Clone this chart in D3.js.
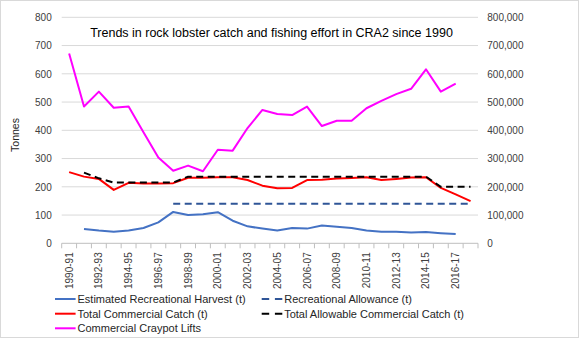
<!DOCTYPE html>
<html>
<head>
<meta charset="utf-8">
<script src="https://cdn.jsdelivr.net/npm/d3@7"></script>
<style>
html,body{margin:0;padding:0;background:#fff;}
svg{display:block;font-family:"Liberation Sans",Arial,sans-serif;}
</style>
</head>
<body>
<svg id="chart" width="580" height="339"></svg>
<script>
const seasons = ["1990-91","1991-92","1992-93","1993-94","1994-95","1995-96","1996-97","1997-98","1998-99","1999-00",
  "2000-01","2001-02","2002-03","2003-04","2004-05","2005-06","2006-07","2007-08","2008-09","2009-10",
  "2010-11","2011-12","2012-13","2013-14","2014-15","2015-16","2016-17","2017-18"];

const recHarvest = [null,51,45,41,45,54,74,111,100,103,110,80,60,52,45,54,52,63,59,54,45,41,41,38,40,36,33,null];
const recAllowance = [null,null,null,null,null,null,null,140,140,140,140,140,140,140,140,140,140,140,140,140,140,140,140,140,140,140,140,140];
const commCatch = [252,236,228,189,214,212,212,213,232,232,234,234,224,204,195,196,224,225,229,231,234,224,228,233,234,196,173,149];
const tacc = [null,250,230,215,215,215,215,215,236,236,236,236,236,236,236,236,236,236,236,236,236,236,236,236,236,200,200,200];
const potLifts = [672000,484000,537000,480000,484000,393000,304000,257000,275000,255000,331000,328000,408000,472000,458000,454000,484000,415000,434000,434000,478000,504000,528000,547000,616000,537000,565000,null];

const leftTicks = [0,100,200,300,400,500,600,700,800];
const rightTicks = [0,100000,200000,300000,400000,500000,600000,700000,800000];
const title = "Trends in rock lobster catch and fishing effort in CRA2 since 1990";

const svg = d3.select("#chart");
const W = 580, H = 339;
const x0 = 61.7, x1 = 478, yTop = 17.3, yBot = 243.3;

svg.append("rect").attr("x",0.5).attr("y",0.5).attr("width",W-2).attr("height",H-2)
  .attr("fill","#fff").attr("stroke","#d9d9d9");

const x = d3.scaleBand().domain(seasons).range([x0,x1]).paddingInner(0).paddingOuter(0);
const y = d3.scaleLinear().domain([0,800]).range([yBot,yTop]);
const y2 = d3.scaleLinear().domain([0,800000]).range([yBot,yTop]);
const cx = s => x(s) + x.bandwidth()/2;

// gridlines
svg.append("g").selectAll("line").data(leftTicks.filter(d=>d>0)).join("line")
  .attr("x1",x0).attr("x2",x1).attr("y1",d=>y(d)).attr("y2",d=>y(d))
  .attr("stroke","#d9d9d9").attr("stroke-width",1);

// left axis
const la = svg.append("g").attr("transform",`translate(${x0},0)`)
  .call(d3.axisLeft(y).tickValues(leftTicks).tickSize(0).tickPadding(10).tickFormat(d3.format("d")));
la.select(".domain").remove();
la.selectAll("text").attr("font-size",10).attr("fill","#404040").attr("font-family","Liberation Sans, Arial, sans-serif");

// right axis
const ra = svg.append("g").attr("transform",`translate(${x1},0)`)
  .call(d3.axisRight(y2).tickValues(rightTicks).tickSize(0).tickPadding(9.3).tickFormat(d3.format(",")));
ra.select(".domain").remove();
ra.selectAll("text").attr("font-size",10).attr("fill","#404040").attr("font-family","Liberation Sans, Arial, sans-serif");

// bottom axis
const ba = svg.append("g").attr("transform",`translate(0,${yBot})`);
ba.append("line").attr("x1",x0).attr("x2",x1).attr("y1",0).attr("y2",0).attr("stroke","#bfbfbf");
const bounds = seasons.map(s=>x(s)).concat([x1]);
ba.selectAll("line.tk").data(bounds).join("line").attr("class","tk")
  .attr("x1",d=>d).attr("x2",d=>d).attr("y1",0).attr("y2",5).attr("stroke","#bfbfbf");
ba.selectAll("text").data(seasons.filter((s,i)=>i%2===0)).join("text")
  .attr("transform",d=>`translate(${cx(d)},${9}) rotate(-90)`)
  .attr("text-anchor","end").attr("dy","0.35em")
  .attr("font-size",10).attr("fill","#404040").text(d=>d);

// y label
svg.append("text").attr("transform","translate(19,135) rotate(-90)")
  .attr("text-anchor","middle").attr("font-size",10.5).attr("fill","#262626").text("Tonnes");

// title
svg.append("text").attr("x",271.5).attr("y",37).attr("text-anchor","middle")
  .attr("font-size",12.5).attr("fill","#000").text(title);

function drawLine(vals, scale, color, dash, width){
  const line = d3.line().defined(d=>d.v!==null).x(d=>cx(d.s)).y(d=>scale(d.v));
  svg.append("path").datum(seasons.map((s,i)=>({s, v: vals[i]})))
    .attr("d",line).attr("fill","none").attr("stroke",color)
    .attr("stroke-width",width||2).attr("stroke-linejoin","round")
    .attr("stroke-dasharray",dash||null);
}
drawLine(recHarvest, y, "#4472C4");
drawLine(recAllowance, y, "#2F5597", "7,4.5");
drawLine(commCatch, y, "#FF0000");
drawLine(tacc, y, "#000000", "7,4.5");
drawLine(potLifts, y2, "#FF00FF");

// legend
const legend = [
  {label:"Estimated Recreational Harvest (t)", color:"#4472C4", dash:null, lx:55, ly:299},
  {label:"Recreational Allowance (t)", color:"#2F5597", dash:"7.5,5.7", lx:261.7, ly:299},
  {label:"Total Commercial Catch (t)", color:"#FF0000", dash:null, lx:55, ly:313.7},
  {label:"Total Allowable Commercial Catch (t)", color:"#000000", dash:"7.5,5.7", lx:261.7, ly:313.7},
  {label:"Commercial Craypot Lifts", color:"#FF00FF", dash:null, lx:55, ly:328.3}
];
const lg = svg.append("g").selectAll("g").data(legend).join("g");
lg.append("line").attr("x1",d=>d.lx).attr("x2",d=>d.lx+20.6).attr("y1",d=>d.ly).attr("y2",d=>d.ly)
  .attr("stroke",d=>d.color).attr("stroke-width",2).attr("stroke-dasharray",d=>d.dash);
lg.append("text").attr("x",d=>d.lx+22.5).attr("y",d=>d.ly).attr("dy","0.35em")
  .attr("font-size",11).attr("fill","#262626").text(d=>d.label);
</script>
</body>
</html>
